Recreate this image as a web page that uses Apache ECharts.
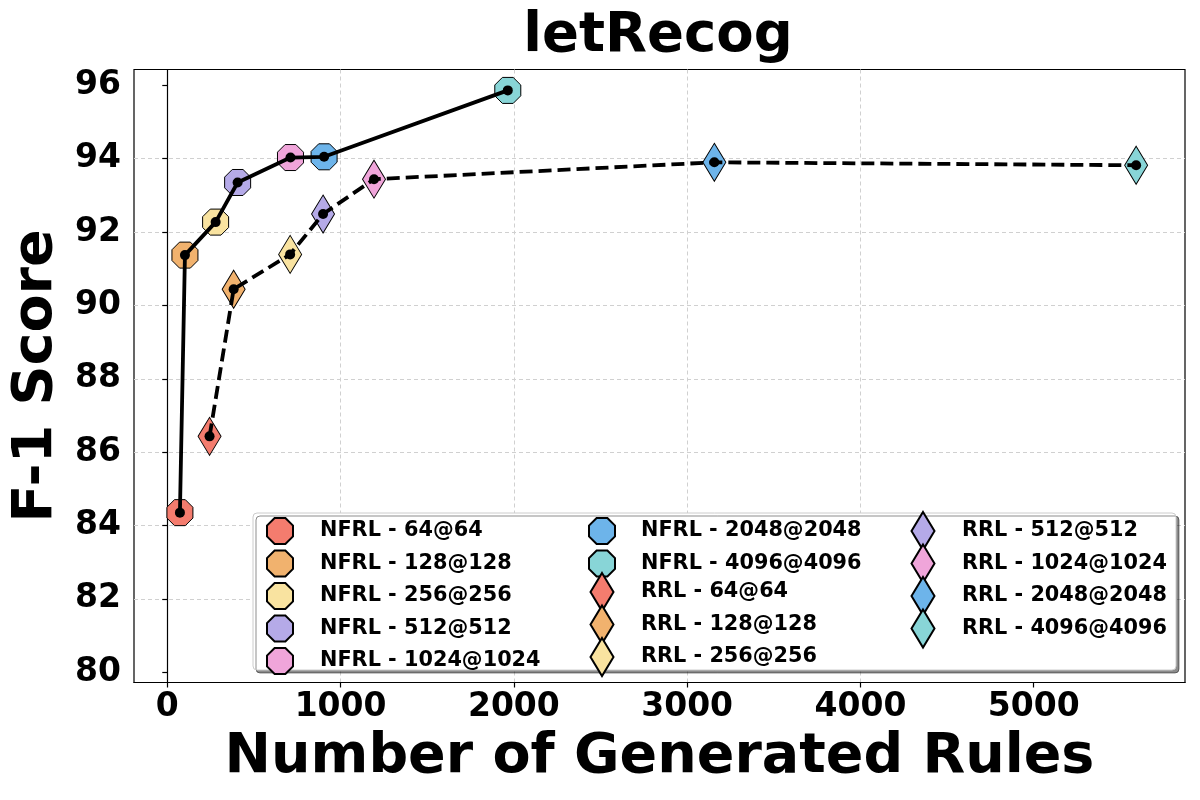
<!DOCTYPE html>
<html>
<head>
<meta charset="utf-8">
<script src="https://cdn.jsdelivr.net/npm/echarts@6/dist/echarts.min.js"></script>
<style>html,body{margin:0;padding:0;background:#fff;}#c{width:1200px;height:800px;}</style>
</head>
<body>
<div id="c"></div>
<script>
// ---- data ----
const configs = ['64@64', '128@128', '256@256', '512@512', '1024@1024', '2048@2048', '4096@4096'];
const nfrlRules = [73, 102, 279, 406, 711, 905, 1965];
const nfrlF1 = [84.35, 91.37, 92.27, 93.35, 94.03, 94.05, 95.86];
const rrlRules = [244, 383, 709, 899, 1193, 3157, 5591];
const rrlF1 = [86.43, 90.44, 91.39, 92.49, 93.44, 93.90, 93.82];
const palette = ['#F47C6E', '#F1B26E', '#F9E3A0', '#B5AAE8', '#F0A5DA', '#6DB4EA', '#88D5D7'];
const xTicks = [0, 1000, 2000, 3000, 4000, 5000];
const yTicks = [80, 82, 84, 86, 88, 90, 92, 94, 96];

const FONT = 'DejaVu Sans';
const OCT = 'path://M29.29 0 L70.71 0 L100 29.29 L100 70.71 L70.71 100 L29.29 100 L0 70.71 L0 29.29 Z';

const nfrlNames = configs.map(c => 'NFRL - ' + c);
const rrlNames = configs.map(c => 'RRL - ' + c);

const series = [];
configs.forEach((c, i) => {
  series.push({
    name: nfrlNames[i], type: 'scatter', symbol: OCT, symbolSize: 26, z: 2,
    itemStyle: { color: palette[i], borderColor: '#000', borderWidth: 1, opacity: 1 },
    data: [[nfrlRules[i], nfrlF1[i]]]
  });
});
configs.forEach((c, i) => {
  series.push({
    name: rrlNames[i], type: 'scatter', symbol: 'diamond', symbolSize: [23, 38], z: 2,
    itemStyle: { color: palette[i], borderColor: '#000', borderWidth: 1, opacity: 1 },
    data: [[rrlRules[i], rrlF1[i]]]
  });
});
series.push({
  name: 'NFRL line', type: 'line', z: 5, symbol: 'circle', symbolSize: 10,
  itemStyle: { color: '#000' }, lineStyle: { color: '#000', width: 3.8 },
  data: nfrlRules.map((x, i) => [x, nfrlF1[i]])
});
series.push({
  name: 'RRL line', type: 'line', z: 5, symbol: 'circle', symbolSize: 10,
  itemStyle: { color: '#000' }, lineStyle: { color: '#000', width: 3.8, type: [13, 6] },
  data: rrlRules.map((x, i) => [x, rrlF1[i]])
});

const legendText = { fontFamily: FONT, fontWeight: 'bold', fontSize: 20.8, color: '#000' };
function mkLegend(names, icon, left, top, w, h, gap, padLeft) {
  return {
    orient: 'vertical', left: left, top: top, padding: 0, z: 10,
    itemWidth: w, itemHeight: h, itemGap: gap, selectedMode: false,
    textStyle: Object.assign({ padding: [0, 0, 0, padLeft] }, legendText),
    data: names.map(n => ({ name: n, icon: icon }))
  };
}
const gridLine = { show: true, showMinLine: false, showMaxLine: false, lineStyle: { color: '#d0d0d0', width: 1, type: [4, 3] } };
const labelFont = { fontFamily: FONT, fontWeight: 'bold', fontSize: 33, color: '#000' };
const nameFont = { fontFamily: FONT, fontWeight: 'bold', fontSize: 55.5, color: '#000' };

const option = {
  animation: false,
  backgroundColor: '#fff',
  title: {
    text: 'letRecog', left: 653, top: 4, textAlign: 'center',
    textStyle: { fontFamily: FONT, fontWeight: 'bold', fontSize: 54.5, color: '#000' }
  },
  grid: { left: 134, right: 15, top: 69.5, bottom: 117.5, show: true, borderColor: '#000', borderWidth: 1.2, backgroundColor: 'transparent', containLabel: false },
  xAxis: {
    type: 'value', min: -192, max: 5873,
    name: 'Number of Generated Rules', nameLocation: 'middle', nameGap: 47,
    nameTextStyle: nameFont,
    axisLine: { show: true, lineStyle: { color: '#000', width: 1.2 } },
    axisTick: { show: true, length: 5, inside: false, customValues: xTicks, lineStyle: { color: '#000', width: 1.2 } },
    axisLabel: Object.assign({ margin: 8, customValues: xTicks, formatter: v => String(v) }, labelFont),
    splitLine: gridLine
  },
  yAxis: {
    type: 'value', min: 79.72, max: 96.43, splitNumber: 8,
    name: 'F-1 Score', nameLocation: 'middle', nameGap: 66,
    nameTextStyle: nameFont,
    axisLine: { show: true, lineStyle: { color: '#000', width: 1.2 } },
    axisTick: { show: true, length: 5, inside: false, customValues: yTicks, lineStyle: { color: '#000', width: 1.2 } },
    axisLabel: Object.assign({ margin: 13, customValues: yTicks, formatter: v => String(v) }, labelFont),
    splitLine: gridLine
  },
  legend: [
    mkLegend(nfrlNames.slice(0, 5), OCT, 266, 517, 26, 26, 4.5, 22),
    mkLegend(nfrlNames.slice(5, 7), OCT, 588, 517, 26, 26, 4.5, 21),
    mkLegend(rrlNames.slice(0, 3), 'diamond', 589.5, 572, 23, 38, -7.5, 22.5),
    mkLegend(rrlNames.slice(3, 7), 'diamond', 910.5, 511, 23, 38, -7.5, 22.5)
  ],
  graphic: [{
    type: 'rect', z: 8,
    shape: { x: 253, y: 513, width: 923, height: 157, r: 4 },
    style: { fill: '#ffffff', stroke: '#cccccc', lineWidth: 1, shadowColor: 'rgba(0,0,0,0.45)', shadowOffsetX: 3, shadowOffsetY: 3, shadowBlur: 0 }
  }],
  series: series
};

const chart = echarts.init(document.getElementById('c'), null, { renderer: 'canvas' });
chart.setOption(option);
</script>
</body>
</html>
